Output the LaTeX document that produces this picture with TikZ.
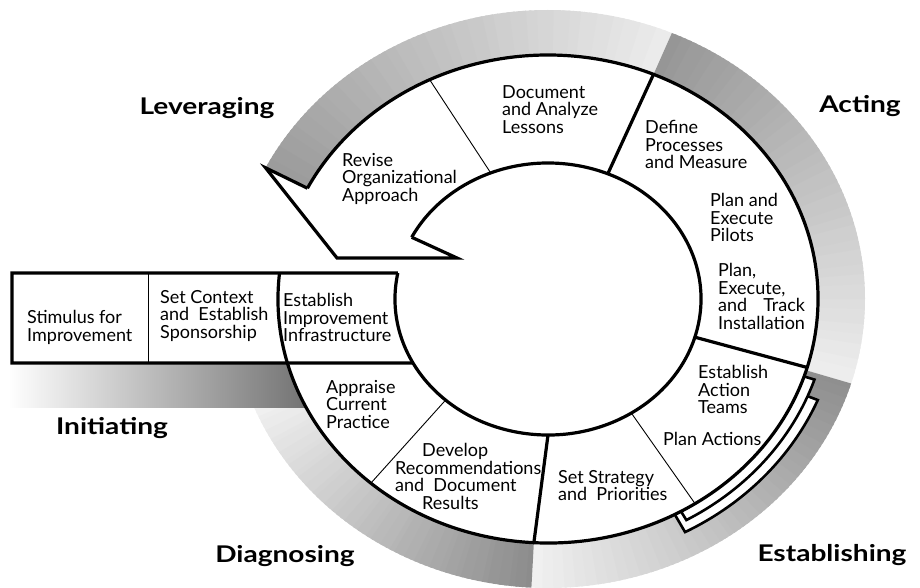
\documentclass[tikz,border=0pt]{standalone}
\usepackage{fontspec}
\usepackage{calc}
\setmainfont{Lato}
\newfontfamily\headfont{Lato}[FakeStretch=1.22]
\begin{document}
\begin{tikzpicture}[x=1pt,y=1pt,
  thickline/.style={line width=3.2pt, line join=miter},
  stripline/.style={line width=2.6pt, line join=miter},
  thinline/.style={line width=0.9pt},
  lbl/.style={inner sep=0pt, anchor=north west, align=left, font=\fontsize{18}{17.6}\selectfont},
  phase/.style={inner sep=0pt, font=\headfont\bfseries\fontsize{23}{26}\selectfont}]
\useasboundingbox (0,0) rectangle (920,587);
\begin{scope}[shift={(548,288)}]
  % graded phase band
  \foreach \s/\e/\lo/\hi in {67/153/8/40, -17/67/7/42, -93/-17/6/45, 200/267/5/46}{
    \pgfmathtruncatemacro\n{\e-\s-1}
    \foreach \i in {0,...,\n}{
      \pgfmathsetmacro\a{\s+\i}
      \pgfmathsetmacro\b{min(\s+\i+1.5,\e)}
      \pgfmathtruncatemacro\p{\lo+(\hi-\lo)*\i/(\e-\s)}
      \fill[black!\p] (\a:317 and 289) arc[start angle=\a, end angle=\b, x radius=317, y radius=289]
        -- (\b:270 and 244) arc[start angle=\b, end angle=\a, x radius=270, y radius=244] -- cycle;
    }
  }
\end{scope}
% initiating band
\shade[left color=white, right color=black!56] (8,180) rectangle (312,224);
\begin{scope}[shift={(548,288)}]
  \fill[white] (0,0) ellipse [x radius=270, y radius=244];
  % strips of the establishing phase
  \fill[white] (-18.5:270 and 244) -- (-18.5:281 and 254)
    arc[start angle=-18.5, end angle=-22.5, x radius=281, y radius=254]
    -- (-22.5:292 and 264) arc[start angle=-22.5, end angle=-62, x radius=292, y radius=264]
    -- (-62:270 and 244) arc[start angle=-62, end angle=-18.5, x radius=270, y radius=244] -- cycle;
  \draw[stripline] (-18.5:270 and 244) -- (-18.5:281 and 254)
    arc[start angle=-18.5, end angle=-60.5, x radius=281, y radius=254] -- (-60.5:270 and 244);
  \draw[stripline] (-22.5:281 and 254) -- (-22.5:292 and 264)
    arc[start angle=-22.5, end angle=-62, x radius=292, y radius=264] -- (-62:270 and 244);
  % rings
  \draw[thickline] (169:153 and 136) arc[start angle=169, end angle=513, x radius=153, y radius=136];
  \draw[thickline] (174:270 and 244) arc[start angle=174, end angle=513, x radius=270, y radius=244];
  % arrow head of leveraging
  \draw[thickline] (153:270 and 244) -- (153:317 and 289) -- (-211,41) -- (-91,41) -- (153:153 and 136);
  % initiating box
  \draw[thickline] (169:153 and 136) -- (-536,26) -- (-536,-64) -- (208.1:153 and 136);
  \draw[thinline] (-400,26) -- (-400,-64);
  % phase dividers
  \draw[thickline] (67:153 and 136) -- (67:270 and 244);
  \draw[thickline] (-16.3:153 and 136) -- (-16.3:270 and 244);
  \draw[thickline] (-90:153 and 136) -- (-93:270 and 244);
  % step dividers
  \draw[thinline] (112:153 and 136) -- (116:270 and 244);
  \draw[thinline] (228:153 and 136) -- (229:270 and 244);
  \draw[thinline] (-57:153 and 136) -- (-57:270 and 244);
\end{scope}
% step labels
\node[lbl] (doc) at (502,502) {Document\\and Analyze\\Lessons};
\node[lbl] (rev) at (342,434) {Revise\\Organizational\\Approach};
\node[lbl] (def) at (645,467) {Define\\Processes\\and Measure};
\node[lbl] (pil) at (710,394) {Plan and\\Execute\\Pilots};
\node[lbl] (ins) at (718,324) {Plan,\\Execute,\\\makebox[\widthof{Installation}][s]{and Track}\\Installation};
\node[lbl] (act) at (698,222) {Establish\\Action\\Teams};
\node[lbl] (pla) at (663,155) {Plan Actions};
\node[lbl] (set) at (558,117) {Set Strategy\\and~~Priorities};
\node[lbl] (app) at (326,207) {Appraise\\Current\\Practice};
\node[lbl] (dev) at (395,144) {\hspace*{27pt}Develop\\Recommendations\\and~~Document\\\hspace*{27pt}Results};
\node[lbl] (inf) at (283,294) {Establish\\Improvement\\Infrastructure};
\node[lbl] (ctx) at (160,297) {Set Context\\and~~Establish\\Sponsorship};
\node[lbl] (sti) at (27,277) {Stimulus for\\Improvement};
% phase labels
\node[phase] (lev) at (207,479) {Leveraging};
\node[phase] (acg) at (860,481) {Acting};
\node[phase] (ini) at (112,159) {Initiating};
\node[phase] (dia) at (285,31) {Diagnosing};
\node[phase] (est) at (832,32) {Establishing};
\end{tikzpicture}
\end{document}
